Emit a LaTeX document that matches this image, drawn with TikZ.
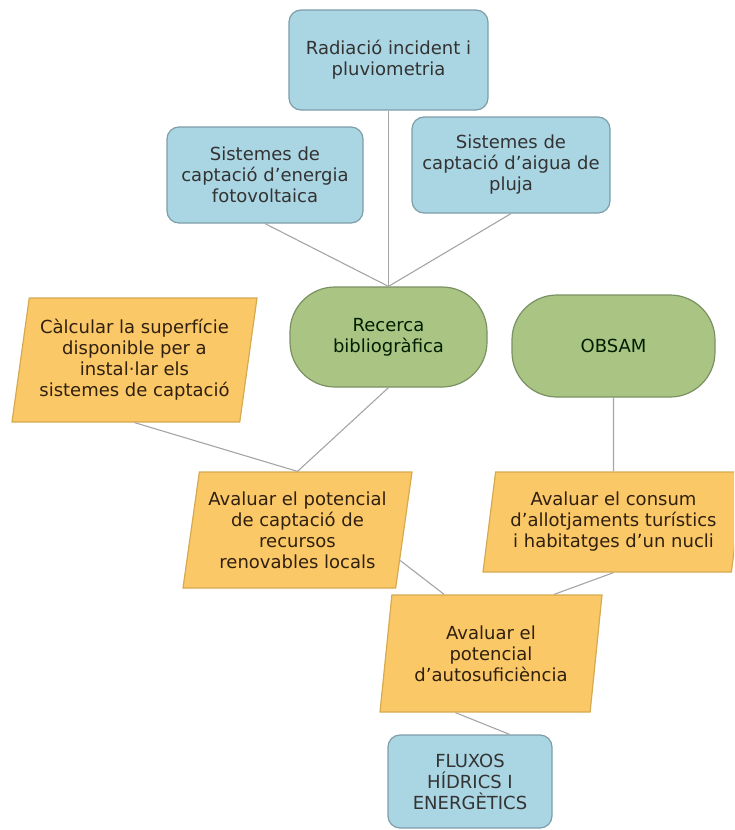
\documentclass[tikz,border=0pt]{standalone}
\usepackage{fontspec}
\setmainfont{DejaVu Sans}
\usetikzlibrary{calc,positioning,shapes.geometric}
\definecolor{boxblue}{RGB}{170,213,227}
\definecolor{boxblueline}{RGB}{125,158,168}
\definecolor{boxgreen}{RGB}{170,196,132}
\definecolor{boxgreenline}{RGB}{122,145,98}
\definecolor{boxorange}{RGB}{250,200,102}
\definecolor{boxorangeline}{RGB}{214,170,80}
\definecolor{linkgrey}{RGB}{165,165,165}

\begin{document}
\begin{tikzpicture}[x=1pt,y=-1pt,font=\fontsize{18}{21}\selectfont]

\tikzset{bluenode/.style={fill=boxblue,draw=boxblueline,line width=1.2pt,rounded corners=12pt,align=center,inner sep=0pt,text=black!80},
greennode/.style={fill=boxgreen,draw=boxgreenline,line width=1.2pt,rounded corners=45pt,align=center,inner sep=0pt,text=black!80!green!60!black},
orangenode/.style={shape=trapezium,trapezium left angle=78,trapezium right angle=102,trapezium stretches body,fill=boxorange,draw=boxorangeline,line width=1.2pt,align=center,inner sep=0pt,text=black!75!brown},
link/.style={draw=linkgrey,line width=1.1pt}}

% Frame
\clip (0,0) rectangle (734,830);

% Data nodes
\node[bluenode,minimum width=199pt,minimum height=100pt] (radiacio) at (388.5,60) {Radiació incident i\\pluviometria};
\node[bluenode,minimum width=196pt,minimum height=96pt] (fotoV) at (265,175) {Sistemes de\\captació d'energia\\fotovoltaica};
\node[bluenode,minimum width=198pt,minimum height=96pt] (aigua) at (511,165) {Sistemes de\\captació d'aigua de\\pluja};

% Sources
\node[greennode,minimum width=197pt,minimum height=100pt] (recerca) at (388.5,337) {Recerca\\bibliogràfica};
\node[greennode,minimum width=203pt,minimum height=102pt] (obsam) at (613.5,346) {OBSAM};

% Processes
\node[orangenode,minimum width=245pt,minimum height=124pt] (calcSup) at (134.5,360) {Càlcular la superfície\\disponible per a\\instal·lar els\\sistemes de captació};
\node[orangenode,minimum width=229pt,minimum height=116pt] (avalPot) at (297.5,530) {Avaluar el potencial\\de captació de\\recursos\\renovables locals};
\node[orangenode,minimum width=261pt,minimum height=100pt] (avalCons) at (613.5,522) {Avaluar el consum\\d'allotjaments turístics\\i habitatges d'un nucli};
\node[orangenode,minimum width=222pt,minimum height=117pt] (avalAuto) at (491,653.5) {Avaluar el\\potencial\\d'autosuficiència};

% Result
\node[bluenode,minimum width=164pt,minimum height=93pt] (fluxos) at (470,781.5) {FLUXOS\\HÍDRICS I\\ENERGÈTICS};

% Links
\draw[link] (radiacio.south) -- (recerca.north);
\draw[link] (fotoV.south) -- (recerca.north);
\draw[link] (aigua.south) -- (recerca.north);
\draw[link] (calcSup.south) -- (avalPot.north);
\draw[link] (recerca.south) -- (avalPot.north);
\draw[link] (obsam.south) -- (avalCons.north);
\draw[link] ($(avalPot.bottom right corner)!0.24!(avalPot.top right corner)$) -- ($(avalAuto.top left corner)!0.25!(avalAuto.top right corner)$);
\draw[link] (avalCons.south) -- ($(avalAuto.top left corner)!0.77!(avalAuto.top right corner)$);
\draw[link] ($(avalAuto.bottom left corner)!0.36!(avalAuto.bottom right corner)$) -- ($(fluxos.north west)!0.74!(fluxos.north east)$);

\end{tikzpicture}
\end{document}
